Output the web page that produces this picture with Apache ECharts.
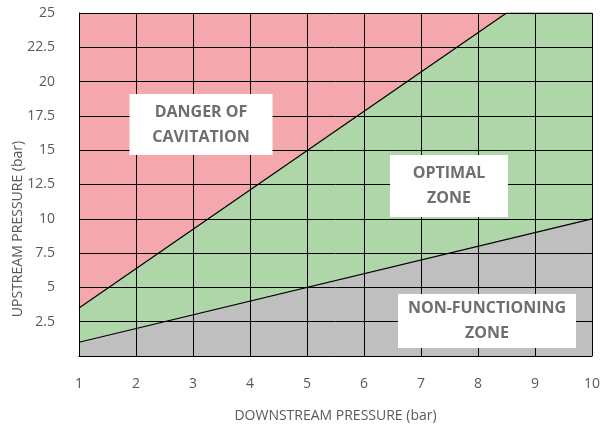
<!DOCTYPE html>
<html><head><meta charset="utf-8">
<script src="https://cdn.jsdelivr.net/npm/echarts@6/dist/echarts.min.js"></script>
<style>html,body{margin:0;padding:0;background:#fff}#c{width:603px;height:428px}</style>
</head><body><div id="c"></div>
<script>
// Data
const xTicks = [1, 2, 3, 4, 5, 6, 7, 8, 9, 10];
const yTicks = [2.5, 5, 7.5, 10, 12.5, 15, 17.5, 20, 22.5, 25];
const topX = [1, 10];
const topY = [25, 25];
const upperX = [1, 8.5, 10];
const upperY = [3.5, 25, 25];
const lowerX = [1, 10];
const lowerY = [1, 10];
const zoneLabels = ['DANGER OF\nCAVITATION', 'OPTIMAL\nZONE', 'NON-FUNCTIONING\nZONE'];

const pairs = (xs, ys) => xs.map((x, i) => [x, ys[i]]);
const FONT = '"Open Sans", sans-serif';
const chart = echarts.init(document.getElementById('c'));

function box(cx, cy, w, h, text) {
  return [
    { type: 'rect', z: 100, shape: { x: cx - w / 2, y: cy - h / 2, width: w, height: h }, style: { fill: '#fff' } },
    { type: 'text', z: 101, x: cx, y: cy, style: { text: text, align: 'center', verticalAlign: 'middle',
        font: 'bold 16px ' + FONT, fill: '#6e6e6e', lineHeight: 25 } }
  ];
}

chart.setOption({
  animation: false,
  grid: { left: 79, right: 6, top: 13, bottom: 69 },
  xAxis: {
    type: 'value', min: 1, max: 10, interval: 1, z: 5,
    name: 'DOWNSTREAM PRESSURE (bar)', nameLocation: 'middle', nameGap: 53,
    nameTextStyle: { fontFamily: FONT, fontSize: 14, color: '#595959' },
    axisLine: { show: true, lineStyle: { color: '#000', width: 1 } },
    axisTick: { show: false },
    axisLabel: { margin: 21, fontFamily: FONT, fontSize: 14, color: '#595959' },
    splitLine: { show: true, lineStyle: { color: '#000', width: 1 } }
  },
  yAxis: {
    type: 'value', min: 0, max: 25, interval: 2.5, z: 5,
    axisLine: { show: true, lineStyle: { color: '#000', width: 1 } },
    axisTick: { show: false },
    axisLabel: { margin: 24, fontFamily: FONT, fontSize: 14, color: '#595959',
      formatter: v => yTicks.indexOf(v) >= 0 ? String(v) : '' },
    splitLine: { show: true, lineStyle: { color: '#000', width: 1 } }
  },
  series: [
    { type: 'line', data: pairs(topX, topY), symbol: 'none', lineStyle: { width: 0 },
      areaStyle: { color: '#F4A7AC', opacity: 1 }, z: 1 },
    { type: 'line', data: pairs(upperX, upperY), symbol: 'none', lineStyle: { width: 1.2, color: '#000' },
      areaStyle: { color: '#AED6A8', opacity: 1 }, z: 2 },
    { type: 'line', data: pairs(lowerX, lowerY), symbol: 'none', lineStyle: { width: 1.2, color: '#000' },
      areaStyle: { color: '#BFBFBF', opacity: 1 }, z: 3 }
  ],
  graphic: [
    { type: 'text', z: 100, x: 18, y: 229, rotation: Math.PI / 2,
      style: { text: 'UPSTREAM PRESSURE (bar)', align: 'center', verticalAlign: 'middle',
        font: '14px ' + FONT, fill: '#595959' } }
  ].concat(
    box(201, 124.5, 143, 61, zoneLabels[0]),
    box(449, 186, 118, 62, zoneLabels[1]),
    box(487, 321, 178, 54, zoneLabels[2])
  )
});
</script></body></html>
